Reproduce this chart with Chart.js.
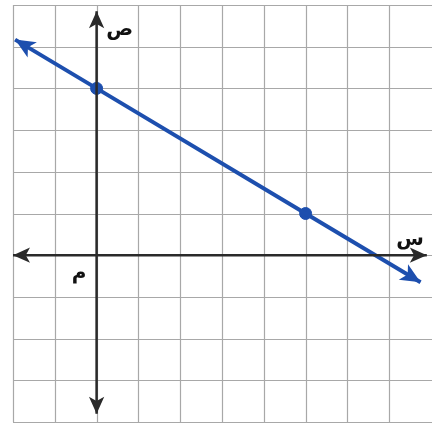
<!DOCTYPE html>
<html>
<head>
<meta charset="utf-8">
<script src="https://cdn.jsdelivr.net/npm/chart.js@4.4.0/dist/chart.umd.min.js"></script>
<style>
  html, body { margin: 0; padding: 0; background: #fff; }
  #graph { display: block; }
</style>
</head>
<body>
<canvas id="graph" width="432" height="427"></canvas>
<script>
// values (grid units)
var xRange = [-2, 8];
var yRange = [-4, 6];
var markedX = [0, 5];
var markedY = [4, 1];
var lineX = [-1.95, 0, 5, 7.75];
var lineY = [5.17, 4, 1, -0.65];
var xAxisX = [-2, 7.9];
var xAxisY = [0, 0];
var yAxisX = [0, 0];
var yAxisY = [5.85, -3.8];
var labelText = ["ص", "س", "م"];
var labelX = [0.55, 7.5, -0.42];
var labelY = [5.4, 0.38, -0.45];

function pts(xs, ys) {
  return xs.map(function (x, i) { return { x: x, y: ys[i] }; });
}

// square grid drawn from the scales (scales themselves are hidden)
var gridPlugin = {
  id: 'grid',
  beforeDatasetsDraw: function (chart) {
    var ctx = chart.ctx;
    var sx = chart.scales.x, sy = chart.scales.y;
    var top = sy.getPixelForValue(yRange[1]), bottom = sy.getPixelForValue(yRange[0]);
    var left = sx.getPixelForValue(xRange[0]), right = chart.width;
    ctx.save();
    ctx.strokeStyle = '#a8a8a8';
    ctx.lineWidth = 1.2;
    ctx.beginPath();
    for (var v = xRange[0]; v < xRange[1]; v++) {
      var px = Math.round(sx.getPixelForValue(v)) + 0.5;
      ctx.moveTo(px, top);
      ctx.lineTo(px, bottom);
    }
    for (var w = yRange[0]; w <= yRange[1]; w++) {
      var py = Math.round(sy.getPixelForValue(w)) + 0.5;
      ctx.moveTo(left, py);
      ctx.lineTo(right, py);
    }
    ctx.stroke();
    ctx.restore();
  }
};

var arrowPlugin = {
  id: 'arrows',
  afterDatasetsDraw: function (chart) {
    var ctx = chart.ctx;
    chart.data.datasets.forEach(function (ds, i) {
      if (!ds.arrows) return;
      var meta = chart.getDatasetMeta(i).data;
      var ends = [[meta[0], meta[1]], [meta[meta.length - 1], meta[meta.length - 2]]];
      ends.forEach(function (e) {
        var tip = e[0], from = e[1];
        var a = Math.atan2(tip.y - from.y, tip.x - from.x);
        var len = ds.arrowSize, w = ds.arrowSize * 0.45;
        ctx.save();
        ctx.translate(tip.x, tip.y);
        ctx.rotate(a);
        ctx.beginPath();
        ctx.moveTo(0, 0);
        ctx.lineTo(-len, -w);
        ctx.lineTo(-len * 0.75, 0);
        ctx.lineTo(-len, w);
        ctx.closePath();
        ctx.fillStyle = ds.borderColor;
        ctx.fill();
        ctx.restore();
      });
    });
  }
};

var labelPlugin = {
  id: 'labels',
  afterDraw: function (chart) {
    var ctx = chart.ctx;
    var sx = chart.scales.x, sy = chart.scales.y;
    ctx.save();
    ctx.fillStyle = '#111';
    ctx.font = 'bold 20px "DejaVu Sans"';
    ctx.textAlign = 'center';
    ctx.textBaseline = 'middle';
    labelText.forEach(function (t, i) {
      ctx.fillText(t, sx.getPixelForValue(labelX[i]), sy.getPixelForValue(labelY[i]));
    });
    ctx.restore();
  }
};

var bgPlugin = {
  id: 'bg',
  beforeDraw: function (chart) {
    var ctx = chart.ctx;
    ctx.fillStyle = 'white';
    ctx.fillRect(0, 0, chart.width, chart.height);
  }
};

function start() {
  var ctx = document.getElementById("graph").getContext("2d");
  new Chart(ctx, {
    type: 'scatter',
    data: {
      datasets: [
        {
          data: pts(xAxisX, xAxisY), showLine: true, borderColor: '#2a2a2a',
          borderWidth: 2.5, pointRadius: 0, arrows: true, arrowSize: 17
        },
        {
          data: pts(yAxisX, yAxisY), showLine: true, borderColor: '#2a2a2a',
          borderWidth: 2.5, pointRadius: 0, arrows: true, arrowSize: 17
        },
        {
          data: pts(lineX, lineY), showLine: true, borderColor: '#1d4fae',
          borderWidth: 4, pointRadius: 0, arrows: true, arrowSize: 20
        },
        {
          data: pts(markedX, markedY), showLine: false, backgroundColor: '#1d4fae',
          borderColor: '#1d4fae', pointRadius: 6
        }
      ]
    },
    options: {
      responsive: false,
      animation: false,
      layout: { autoPadding: false, padding: { left: 13, right: 1, top: 5, bottom: 5 } },
      plugins: { legend: { display: false }, tooltip: { enabled: false } },
      scales: {
        x: { type: 'linear', display: false, min: xRange[0], max: xRange[1] },
        y: { type: 'linear', display: false, min: yRange[0], max: yRange[1] }
      }
    },
    plugins: [bgPlugin, gridPlugin, arrowPlugin, labelPlugin]
  });
}

window.onload = start;
</script>
</body>
</html>
